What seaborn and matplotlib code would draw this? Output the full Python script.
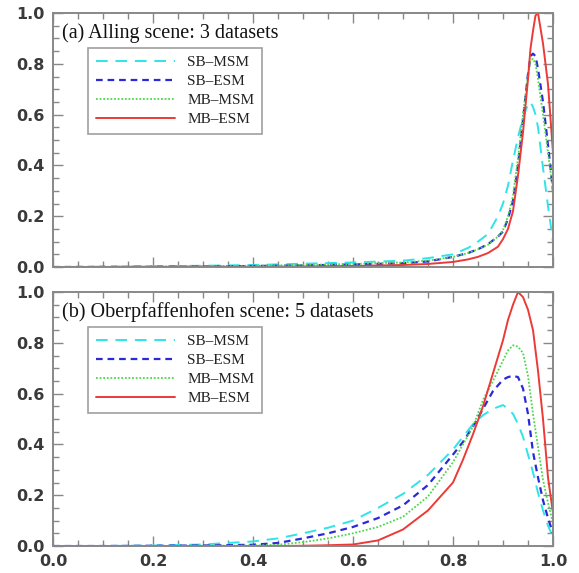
import numpy as np
import pandas as pd
import matplotlib
matplotlib.use("Agg")
import matplotlib.pyplot as plt
import seaborn as sns
from matplotlib.ticker import MultipleLocator

# ---------------- data ----------------
series_names = ["SB–MSM", "SB–ESM", "MB–MSM", "MB–ESM"]
panel_titles = ["(a) Alling scene: 3 datasets", "(b) Oberpfaffenhofen scene: 5 datasets"]
y_ticks = [0.0, 0.2, 0.4, 0.6, 0.8, 1.0]
x_ticks = [0.0, 0.2, 0.4, 0.6, 0.8, 1.0]

x_a = [0.0, 0.1, 0.2, 0.3, 0.4, 0.5, 0.6, 0.7, 0.75, 0.8, 0.83, 0.85, 0.87, 0.89, 0.9,
       0.91, 0.92, 0.93, 0.94, 0.95, 0.955, 0.96, 0.965, 0.97, 0.98, 0.99, 1.0]
a_sb_msm = [0.0, 0.001, 0.003, 0.005, 0.008, 0.013, 0.018, 0.025, 0.035, 0.05, 0.075, 0.1, 0.13, 0.2, 0.25,
            0.32, 0.42, 0.51, 0.59, 0.64, 0.65, 0.63, 0.6, 0.55, 0.39, 0.24, 0.1]
a_sb_esm = [0.0, 0.0005, 0.001, 0.002, 0.004, 0.006, 0.01, 0.015, 0.022, 0.04, 0.055, 0.07, 0.09, 0.12, 0.14,
            0.19, 0.26, 0.4, 0.58, 0.76, 0.83, 0.84, 0.83, 0.78, 0.65, 0.48, 0.3]
a_mb_msm = [0.0, 0.001, 0.002, 0.003, 0.005, 0.008, 0.012, 0.018, 0.025, 0.04, 0.055, 0.07, 0.088, 0.12, 0.145,
            0.2, 0.28, 0.43, 0.6, 0.76, 0.81, 0.82, 0.8, 0.74, 0.6, 0.45, 0.3]
a_mb_esm = [0.0, 0.0, 0.0005, 0.001, 0.001, 0.002, 0.004, 0.008, 0.012, 0.02, 0.03, 0.04, 0.055, 0.08, 0.11,
            0.15, 0.22, 0.36, 0.53, 0.74, 0.86, 0.93, 0.99, 1.0, 0.88, 0.72, 0.45]

x_b = [0.0, 0.1, 0.2, 0.3, 0.4, 0.45, 0.5, 0.55, 0.6, 0.65, 0.7, 0.75, 0.8, 0.82, 0.84, 0.86, 0.88,
       0.9, 0.91, 0.92, 0.93, 0.94, 0.95, 0.96, 0.97, 0.98, 0.99, 1.0]
b_sb_msm = [0.0, 0.0, 0.002, 0.006, 0.018, 0.03, 0.05, 0.072, 0.1, 0.15, 0.205, 0.28, 0.38, 0.43, 0.48, 0.515, 0.54,
            0.555, 0.54, 0.52, 0.48, 0.43, 0.36, 0.29, 0.21, 0.14, 0.08, 0.035]
b_sb_esm = [0.0, 0.0, 0.001, 0.002, 0.005, 0.012, 0.03, 0.05, 0.075, 0.11, 0.16, 0.24, 0.36, 0.41, 0.47, 0.54, 0.61,
            0.655, 0.665, 0.67, 0.665, 0.62, 0.52, 0.37, 0.27, 0.18, 0.11, 0.05]
b_mb_msm = [0.0, 0.0, 0.0, 0.001, 0.002, 0.005, 0.015, 0.03, 0.05, 0.075, 0.115, 0.195, 0.33, 0.4, 0.47, 0.575, 0.65,
            0.73, 0.77, 0.79, 0.785, 0.76, 0.67, 0.52, 0.39, 0.26, 0.17, 0.09]
b_mb_esm = [0.0, 0.0, 0.0, 0.0, 0.0, 0.0, 0.001, 0.003, 0.006, 0.022, 0.065, 0.14, 0.25, 0.34, 0.44, 0.55, 0.68,
            0.81, 0.89, 0.95, 1.0, 0.98, 0.93, 0.85, 0.69, 0.5, 0.27, 0.13]

panels = [
    (x_a, [a_sb_msm, a_sb_esm, a_mb_msm, a_mb_esm]),
    (x_b, [b_sb_msm, b_sb_esm, b_mb_msm, b_mb_esm]),
]

# ---------------- style ----------------
sns.set_style("ticks")
plt.rcParams["font.family"] = ["DejaVu Sans"]

colors = ["#2fe4e8", "#2a2ad6", "#4cd84c", "#ec3a36"]
dashes = [(6, 4), (3, 2.2), (1, 1), ""]
widths = [1.4, 1.6, 1.3, 1.4]
gray = "#888888"
label_gray = "#3a3a3a"
serif = ["Liberation Serif", "DejaVu Serif"]

fig = plt.figure(figsize=(5.79, 5.73), dpi=100)
axes = [fig.add_axes([0.0915, 0.534, 0.8636, 0.4433]),
        fig.add_axes([0.0915, 0.0471, 0.8636, 0.4433])]

for i, (ax, (xv, ys)) in enumerate(zip(axes, panels)):
    for name, yv, c, d, w in zip(series_names, ys, colors, dashes, widths):
        df = pd.DataFrame({"x": xv, "y": yv})
        sns.lineplot(data=df, x="x", y="y", ax=ax, color=c, linewidth=w,
                     label=name, dashes=False)
        line = ax.get_lines()[-1]
        if d:
            line.set_dashes(d)
    ax.set_xlim(0, 1)
    ax.set_ylim(0, 1)
    ax.set_xlabel("")
    ax.set_ylabel("")
    ax.set_xticks(x_ticks)
    ax.set_yticks(y_ticks)
    ax.xaxis.set_minor_locator(MultipleLocator(0.05))
    ax.yaxis.set_minor_locator(MultipleLocator(0.05))
    ax.tick_params(which="both", direction="in", top=True, right=True,
                   color=gray, width=1.0)
    ax.tick_params(which="major", length=7)
    ax.tick_params(which="minor", length=4)
    ax.tick_params(axis="both", labelsize=11.5, labelcolor=label_gray, pad=6)
    ax.set_yticklabels([f"{t:.1f}" for t in y_ticks], fontweight="bold")
    if i == 0:
        ax.set_xticklabels([])
    else:
        ax.set_xticklabels([f"{t:.1f}" for t in x_ticks], fontweight="bold")
    for sp in ax.spines.values():
        sp.set_color(gray)
        sp.set_linewidth(1.4)
    ax.text(0.018, 0.922, panel_titles[i], transform=ax.transAxes,
            fontsize=14.5, family=serif,
            va="center", ha="left", color="#111111")
    leg = ax.legend(loc="upper left", bbox_to_anchor=(0.055, 0.893),
                    frameon=True, fancybox=False, handlelength=5.2,
                    handletextpad=0.8, borderpad=0.5, labelspacing=0.35,
                    prop={"family": serif, "size": 11})
    leg.get_frame().set_edgecolor(gray)
    leg.get_frame().set_linewidth(1.2)
    for txt in leg.get_texts():
        txt.set_color("#222222")

fig.savefig("out.png", dpi=100)
